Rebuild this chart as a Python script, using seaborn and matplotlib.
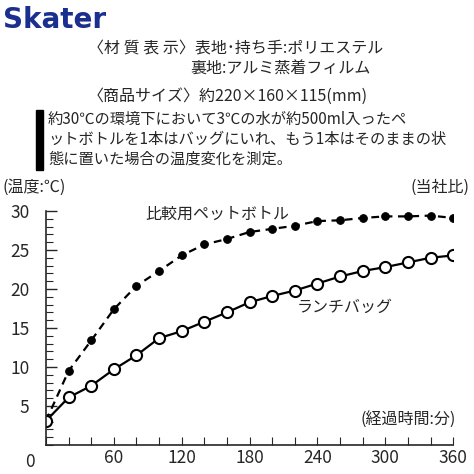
import matplotlib
matplotlib.use("Agg")
import matplotlib.pyplot as plt
import seaborn as sns
import pandas as pd

minutes = list(range(0, 361, 20))
lunch_bag = [3.1, 6.1, 7.6, 9.7, 11.5, 13.7, 14.6, 15.8, 17.0, 18.3, 19.1, 19.8, 20.7, 21.6, 22.3, 22.8, 23.4, 24.0, 24.3]
pet_bottle = [3.1, 9.5, 13.4, 17.4, 20.4, 22.3, 24.3, 25.7, 26.4, 27.3, 27.7, 28.1, 28.7, 28.8, 29.1, 29.3, 29.3, 29.4, 29.1]
x_labels = ["", "60", "120", "180", "240", "300", "360"]

sns.set_style("ticks")
plt.rcParams['font.family'] = ['Noto Sans CJK JP', 'DejaVu Sans']

fig = plt.figure(figsize=(4.74, 4.74), dpi=100)
ax = fig.add_axes([0.097, 0.061, 0.859, 0.494])
df = pd.DataFrame({"t": minutes, "lunch": lunch_bag, "pet": pet_bottle})
sns.lineplot(data=df, x="t", y="pet", ax=ax, color="black", lw=1.6, linestyle=(0, (3.5, 2.5)),
             marker="o", markersize=5.5, markerfacecolor="black", markeredgecolor="black")
sns.lineplot(data=df, x="t", y="lunch", ax=ax, color="black", lw=1.6,
             marker="o", markersize=8, markerfacecolor="white", markeredgecolor="black", markeredgewidth=1.5)
ax.set_xlim(0, 360)
ax.set_ylim(0, 30)
ax.set_xticks(range(0, 361, 60))
ax.set_xticklabels(x_labels, fontsize=12.5)
ax.set_xticks(range(0, 361, 20), minor=True)
ax.set_yticks([5, 10, 15, 20, 25, 30])
ax.set_yticks(range(0, 31), minor=True)
ax.tick_params(axis='y', labelsize=12.5, direction='in', length=8, width=1, pad=12)
ax.tick_params(axis='y', which='minor', direction='in', length=5, width=0.8)
ax.tick_params(axis='x', which='both', direction='in', length=6, width=0.8, pad=3)
ax.tick_params(axis='x', which='major', labelsize=12.5)
ax.set_xlabel(""); ax.set_ylabel("")
for s in ["top", "right"]:
    ax.spines[s].set_visible(False)
ax.spines["left"].set_linewidth(1.2)
ax.spines["bottom"].set_linewidth(1.2)
fig.text(30/474, 1-462/474, "0", fontsize=12.5, ha="center", va="center")

fig.text(3/474, 1-187/474, "(温度:℃)", fontsize=11.5, va="center")
fig.text(470/474, 1-187/474, "(当社比)", fontsize=11.5, va="center", ha="right")
ax.text(88, 29.6, "比較用ペットボトル", fontsize=11.5, va="center")
ax.text(222, 17.7, "ランチバッグ", fontsize=11.5, va="center")
ax.text(362, 3.2, "(経過時間:分)", fontsize=11.5, va="center", ha="right")

fig.text(3/474, 1-20/474, "Skater", fontsize=20, fontweight="bold", color="#1b2f8f", va="center", family="DejaVu Sans")
fig.text(88/474, 1-49/474, "〈材 質 表 示〉表地･持ち手:ポリエステル", fontsize=11.5, va="center")
fig.text(190/474, 1-69/474, "裏地:アルミ蒸着フィルム", fontsize=11.5, va="center")
fig.text(88/474, 1-96/474, "〈商品サイズ〉約220×160×115(mm)", fontsize=11.5, va="center")
fig.patches.append(plt.Rectangle((36/474, 1-170/474), 7/474, 60/474, transform=fig.transFigure, color="black"))
fig.text(48/474, 1-119/474, "約30℃の環境下において3℃の水が約500ml入ったペ", fontsize=11, va="center")
fig.text(48/474, 1-139/474, "ットボトルを1本はバッグにいれ、もう1本はそのままの状", fontsize=11, va="center")
fig.text(48/474, 1-159/474, "態に置いた場合の温度変化を測定。", fontsize=11, va="center")

fig.savefig("out.png", dpi=100)
